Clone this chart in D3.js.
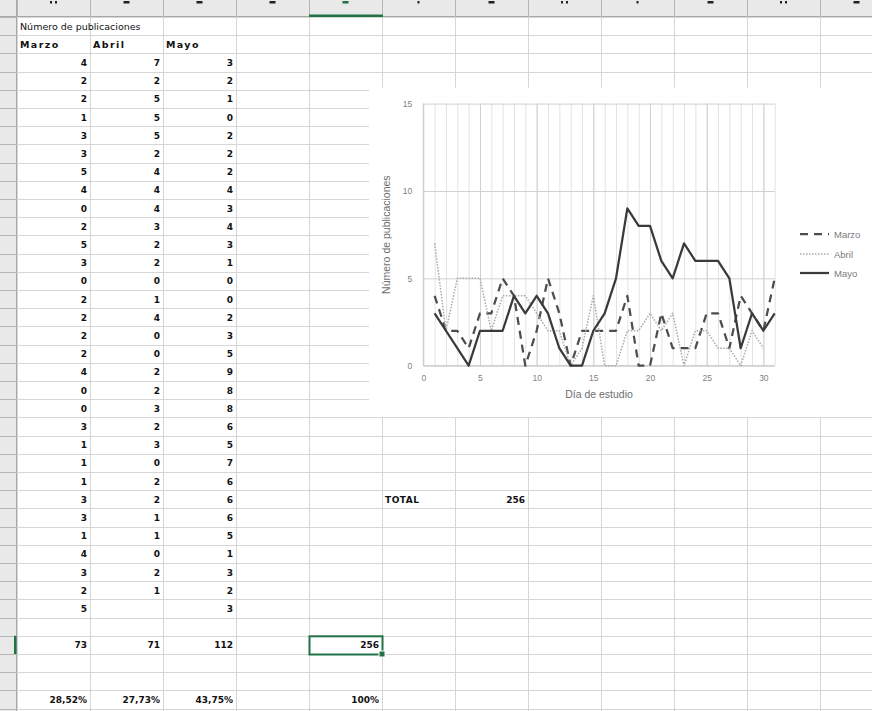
<!DOCTYPE html>
<html><head><meta charset="utf-8">
<script src="https://cdn.jsdelivr.net/npm/d3@7"></script>
<style>body{margin:0;background:#fff;overflow:hidden}</style>
</head><body>
<svg id="c" width="872" height="711"></svg>
<script>
// ---------- data ----------
const tableTitle = "Número de publicaciones";
const months = ["Marzo", "Abril", "Mayo"];
const days = [1,2,3,4,5,6,7,8,9,10,11,12,13,14,15,16,17,18,19,20,21,22,23,24,25,26,27,28,29,30,31];
const marzo = [4,2,2,1,3,3,5,4,0,2,5,3,0,2,2,2,2,4,0,0,3,1,1,1,3,3,1,4,3,2,5];
const abril = [7,2,5,5,5,2,4,4,4,3,2,2,0,1,4,0,0,2,2,3,2,3,0,2,2,1,1,0,2,1,null];
const mayo  = [3,2,1,0,2,2,2,4,3,4,3,1,0,0,2,3,5,9,8,8,6,5,7,6,6,6,5,1,3,2,3];
const xTicks = [0,5,10,15,20,25,30];
const yTicks = [0,5,10,15];
// bottom fragments of the (cropped) column letters A..L: "bar", "two", "one"
const colLetterBottoms = ["two","bar","bar","bar","bar","one","bar","two","one","bar","two","bar"];
const totalLabel = "TOTAL";
const xTitle = "Día de estudio";
const yTitle = "Número de publicaciones";

// ---------- sheet geometry ----------
const W = 872, H = 711;
const colW = 73, rowH = 18.2, left0 = 17, top0 = 17;
const colX = k => left0 + colW * k;
const rowY = r => top0 + rowH * r;
const svg = d3.select("#c");
svg.append("rect").attr("width", W).attr("height", H).attr("fill", "#fff");

const grid = svg.append("g");
const nCols = 13, nRows = 39;
for (let k = 0; k <= nCols; k++) {
  grid.append("line").attr("x1", colX(k) + 0.5).attr("x2", colX(k) + 0.5)
    .attr("y1", top0).attr("y2", H).attr("stroke", "#d6d6d6");
}
for (let r = 0; r <= nRows; r++) {
  const y = Math.round(rowY(r)) + 0.5;
  grid.append("line").attr("x1", left0).attr("x2", W).attr("y1", y).attr("y2", y).attr("stroke", "#d6d6d6");
}
// headers
svg.append("rect").attr("x", 0).attr("y", 0).attr("width", W).attr("height", top0).attr("fill", "#e9e9e9");
svg.append("rect").attr("x", 0).attr("y", 0).attr("width", left0 - 1).attr("height", H).attr("fill", "#e9e9e9");
svg.append("line").attr("x1", 0).attr("x2", W).attr("y1", top0 - 0.5).attr("y2", top0 - 0.5).attr("stroke", "#a8a8a8");
svg.append("line").attr("x1", left0 - 0.5).attr("x2", left0 - 0.5).attr("y1", 0).attr("y2", H).attr("stroke", "#a8a8a8");
for (let k = 0; k <= nCols; k++) {
  svg.append("line").attr("x1", colX(k) + 0.5).attr("x2", colX(k) + 0.5).attr("y1", 0).attr("y2", top0)
    .attr("stroke", "#b5b5b5");
}
for (let r = 0; r <= nRows; r++) {
  const y = Math.round(rowY(r)) + 0.5;
  svg.append("line").attr("x1", 0).attr("x2", left0).attr("y1", y).attr("y2", y).attr("stroke", "#b5b5b5");
}
// cropped letter bottoms
colLetterBottoms.forEach((t, i) => {
  const cx = colX(i) + colW / 2, col = i === 4 ? "#217346" : "#222";
  if (t === "bar") svg.append("rect").attr("x", cx - 3).attr("y", 1).attr("width", 6).attr("height", 2.5).attr("fill", col);
  else if (t === "one") svg.append("rect").attr("x", cx - 1).attr("y", 1).attr("width", 2).attr("height", 2.5).attr("fill", col);
  else {
    svg.append("rect").attr("x", cx - 3.5).attr("y", 1).attr("width", 2).attr("height", 2.5).attr("fill", col);
    svg.append("rect").attr("x", cx + 1.5).attr("y", 1).attr("width", 2).attr("height", 2.5).attr("fill", col);
  }
});
// selected column/row markers
svg.append("rect").attr("x", colX(4)).attr("y", top0 - 2.5).attr("width", colW + 1).attr("height", 2.5).attr("fill", "#217346");
svg.append("rect").attr("x", left0 - 3).attr("y", rowY(34)).attr("width", 2.5).attr("height", rowH).attr("fill", "#217346");

// ---------- cells ----------
const cellFont = "DejaVu Sans";
function cellText(col, row, txt, opts = {}) {
  const anchor = opts.anchor || "end";
  const x = anchor === "end" ? colX(col + 1) - 3 : colX(col) + 3;
  svg.append("text").attr("x", x).attr("y", rowY(row) + rowH / 2 + 3.5)
    .attr("text-anchor", anchor).attr("font-family", cellFont)
    .attr("font-size", opts.size || 9).attr("font-weight", opts.weight || "bold")
    .attr("letter-spacing", opts.ls || 0)
    .attr("fill", "#111").text(txt);
}
cellText(0, 0, tableTitle, {anchor: "start", weight: "normal", size: 9.5});
months.forEach((m, i) => cellText(i, 1, m, {anchor: "start", size: 9.5, ls: 1.4}));
const series = [marzo, abril, mayo];
series.forEach((arr, i) => {
  arr.forEach((v, j) => { if (v !== null) cellText(i, 2 + j, String(v)); });
});
const sums = series.map(a => d3.sum(a));
const grand = d3.sum(sums);
sums.forEach((s, i) => cellText(i, 34, String(s)));
cellText(4, 34, String(grand));
const pct = v => (v === 1 ? "100" : d3.format(".2f")(v * 100).replace(".", ",")) + "%";
sums.forEach((s, i) => cellText(i, 37, pct(s / grand)));
cellText(4, 37, pct(1));
cellText(5, 26, totalLabel, {anchor: "start", ls: 0.5});
cellText(6, 26, String(grand));
// selected cell
svg.append("rect").attr("x", colX(4) + 0.5).attr("y", rowY(34) + 0.5).attr("width", colW).attr("height", rowH)
  .attr("fill", "none").attr("stroke", "#217346").attr("stroke-width", 2);
svg.append("rect").attr("x", colX(5) - 3).attr("y", rowY(35) - 3).attr("width", 6).attr("height", 6)
  .attr("fill", "#217346").attr("stroke", "#fff").attr("stroke-width", 1);

// ---------- chart ----------
const chartBox = {x: 369, y: 88, w: W - 369, h: 329};
svg.append("rect").attr("x", chartBox.x).attr("y", chartBox.y).attr("width", chartBox.w).attr("height", chartBox.h).attr("fill", "#fff");
const x = d3.scaleLinear().domain([0, 31]).range([423.3, 774.7]);
const y = d3.scaleLinear().domain([0, 15]).range([365.7, 103.6]);
const ch = svg.append("g");
const ph = y(0) - y(15);
// minor vertical gridlines
ch.append("g").attr("transform", `translate(0,${y(0)})`)
  .call(d3.axisBottom(x).tickValues(days).tickSize(-ph).tickFormat(""))
  .call(g => g.select(".domain").remove())
  .call(g => g.selectAll("line").attr("stroke", "#e3e3e3").attr("stroke-width", 1));
// major vertical gridlines
ch.append("g").attr("transform", `translate(0,${y(0)})`)
  .call(d3.axisBottom(x).tickValues(xTicks).tickSize(-ph).tickFormat(""))
  .call(g => g.select(".domain").remove())
  .call(g => g.selectAll("line").attr("stroke", "#d0d0d0").attr("stroke-width", 1));
// horizontal gridlines
ch.append("g").attr("transform", `translate(${x(0)},0)`)
  .call(d3.axisLeft(y).tickValues(yTicks).tickSize(-(x(31) - x(0))).tickFormat(""))
  .call(g => g.select(".domain").remove())
  .call(g => g.selectAll("line").attr("stroke", "#d0d0d0").attr("stroke-width", 1));
// axis lines
ch.append("line").attr("x1", x(0)).attr("x2", x(0)).attr("y1", y(0)).attr("y2", y(15)).attr("stroke", "#c8c8c8");
ch.append("line").attr("x1", x(0)).attr("x2", x(31)).attr("y1", y(0)).attr("y2", y(0)).attr("stroke", "#c8c8c8");
// tick labels
const chartFont = "Liberation Sans";
ch.append("g").attr("transform", `translate(0,${y(0)})`)
  .call(d3.axisBottom(x).tickValues(xTicks).tickSize(0).tickPadding(9))
  .call(g => g.select(".domain").remove())
  .call(g => g.selectAll("text").attr("font-family", chartFont).attr("font-size", 8.5).attr("fill", "#7f7f7f"));
ch.append("g").attr("transform", `translate(${x(0)},0)`)
  .call(d3.axisLeft(y).tickValues(yTicks).tickSize(0).tickPadding(11))
  .call(g => g.select(".domain").remove())
  .call(g => g.selectAll("text").attr("font-family", chartFont).attr("font-size", 8.5).attr("fill", "#7f7f7f"));
// titles
ch.append("text").attr("x", (x(0) + x(31)) / 2).attr("y", 398).attr("text-anchor", "middle")
  .attr("font-family", chartFont).attr("font-size", 10.5).attr("fill", "#6e6e6e").text(xTitle);
ch.append("text").attr("transform", `translate(390,${(y(0) + y(15)) / 2}) rotate(-90)`).attr("text-anchor", "middle")
  .attr("font-family", chartFont).attr("font-size", 10.5).attr("fill", "#6e6e6e").text(yTitle);
// lines
const seriesStyle = [
  {name: months[0], data: marzo, color: "#4d4d4d", width: 2.25, dash: "8,6"},
  {name: months[1], data: abril, color: "#a9a9a9", width: 1.5, dash: "1.5,1.5"},
  {name: months[2], data: mayo, color: "#3a3a3a", width: 2.25, dash: null}
];
const line = d3.line().defined(d => d[1] !== null).x(d => x(d[0])).y(d => y(d[1]));
seriesStyle.forEach(s => {
  ch.append("path").datum(days.map((d, i) => [d, s.data[i]]))
    .attr("d", line).attr("fill", "none").attr("stroke", s.color).attr("stroke-width", s.width)
    .attr("stroke-linejoin", "round")
    .attr("stroke-dasharray", s.dash);
});
// legend
const legY = [234, 254, 273];
seriesStyle.forEach((s, i) => {
  ch.append("line").attr("x1", 800).attr("x2", 829).attr("y1", legY[i]).attr("y2", legY[i])
    .attr("stroke", s.color).attr("stroke-width", s.width).attr("stroke-dasharray", s.dash);
  ch.append("text").attr("x", 834).attr("y", legY[i] + 3.5).attr("font-family", chartFont)
    .attr("font-size", 9.5).attr("fill", "#7a7a7a").text(s.name);
});
</script>
</body></html>
